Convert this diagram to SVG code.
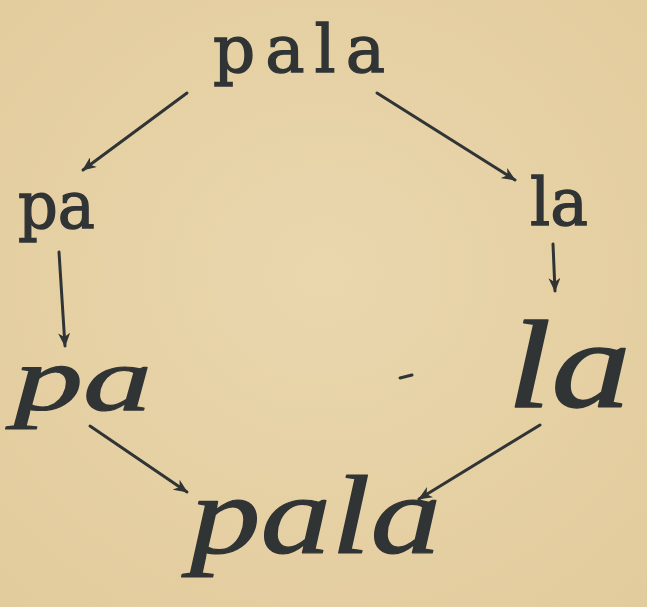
<svg xmlns="http://www.w3.org/2000/svg" width="647" height="607" viewBox="0 0 647 607">
  <defs>
    <radialGradient id="paper" cx="50%" cy="45%" r="75%">
      <stop offset="0" stop-color="#ead7ae"/>
      <stop offset="1" stop-color="#e2cb9c"/>
    </radialGradient>
    <marker id="arr" viewBox="0 0 14 12" refX="13" refY="6" markerWidth="14" markerHeight="12" orient="auto" markerUnits="userSpaceOnUse">
      <path d="M0,0 L14,6 L0,12 L4,6 Z" fill="#303434"/>
    </marker>
    <style>
      .print { font-family: "DejaVu Serif", "Liberation Serif", serif; font-size: 66px; fill: #303434; stroke: #303434; stroke-width: 1.4; }
      .script { font-family: "Liberation Serif", "DejaVu Serif", serif; font-style: italic; fill: #303434; stroke: #303434; stroke-width: 1.2; stroke-linejoin: round; }
      .conn line { stroke: #303434; stroke-width: 3; stroke-linecap: round; marker-end: url(#arr); }
    </style>
  </defs>
  <rect width="647" height="607" fill="url(#paper)"/>

  <g id="pala-print"><text class="print" x="213" y="72" textLength="172" lengthAdjust="spacing">pala</text></g>
  <g id="pa-print"><text class="print" x="18" y="228" textLength="77" lengthAdjust="spacingAndGlyphs">pa</text></g>
  <g id="la-print"><text class="print" x="530" y="225" textLength="58" lengthAdjust="spacingAndGlyphs">la</text></g>

  <g id="pa-script"><text class="script" x="14" y="410" font-size="90" textLength="138" lengthAdjust="spacingAndGlyphs">pa</text></g>
  <g id="la-script"><text class="script" transform="translate(507,407) scale(1,1.2)" x="0" y="0" font-size="104" textLength="124" lengthAdjust="spacingAndGlyphs">la</text></g>
  <g id="pala-script"><text class="script" x="190" y="553" font-size="112" textLength="251" lengthAdjust="spacingAndGlyphs">pala</text></g>

  <path d="M400,378 L412,375" stroke="#303434" stroke-width="3" stroke-linecap="round" fill="none"/>

  <g id="connectors" class="conn">
    <line x1="187" y1="93" x2="83" y2="170"/>
    <line x1="377" y1="93" x2="515" y2="180"/>
    <line x1="59" y1="252" x2="65" y2="346"/>
    <line x1="553" y1="244" x2="555" y2="291"/>
    <line x1="90" y1="426" x2="187" y2="492"/>
    <line x1="540" y1="425" x2="419" y2="499"/>
  </g>
</svg>
